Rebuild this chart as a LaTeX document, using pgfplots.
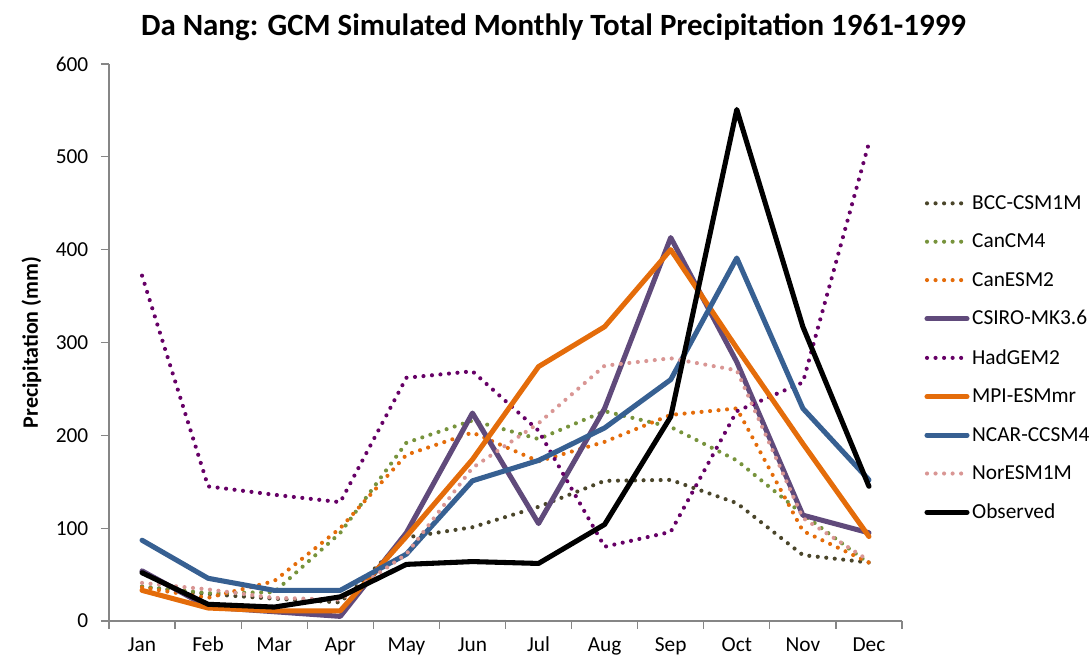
\documentclass[border=0pt]{standalone}
\usepackage{pgfplots}
\pgfplotsset{compat=1.18}
\usepackage{fontspec}
\setmainfont{Carlito}
\definecolor{cBCC}{HTML}{4A452A}
\definecolor{cCan}{HTML}{77933C}
\definecolor{cOr}{HTML}{E46C0A}
\definecolor{cCS}{HTML}{604A7B}
\definecolor{cHad}{HTML}{660066}
\definecolor{cNC}{HTML}{376092}
\definecolor{cNor}{HTML}{D99694}
\definecolor{axgray}{HTML}{868686}
\begin{document}
\begin{tikzpicture}
\begin{axis}[
  scale only axis,
  width=594.75pt, height=417.75pt,
  xmin=0.5, xmax=12.5, ymin=0, ymax=600,
  axis x line*=bottom, axis y line*=left,
  axis line style={axgray, line width=0.9pt},
  xtick={1,...,12},
  xticklabels={Jan,Feb,Mar,Apr,May,Jun,Jul,Aug,Sep,Oct,Nov,Dec},
  minor xtick={0.5,1.5,...,12.5},
  major x tick style={draw=none},
  minor x tick style={axgray, line width=0.9pt},
  minor tick length=6pt,
  ytick={0,100,...,600},
  y tick style={axgray, line width=0.9pt},
  tick align=outside, major tick length=6pt,
  tick label style={font=\fontsize{16}{19}\selectfont, /pgf/number format/assume math mode=true},
  xticklabel style={yshift=-4pt, text height=11.5pt, text depth=2.5pt, inner ysep=1pt},
  yticklabel style={xshift=-6pt},
  ylabel={\bfseries Precipitation (mm)},
  ylabel style={font=\fontsize{16.5}{19}\selectfont, yshift=4pt},
  title={\bfseries Da Nang: GCM Simulated Monthly Total Precipitation 1961-1999},
  title style={font=\fontsize{23.2}{27}\selectfont, yshift=8pt, xshift=36pt},
  clip=false,
  legend style={draw=none, fill=none, font=\fontsize{16}{19}\selectfont,
    at={(1.028,0.472)}, anchor=west, row sep=12.9pt, inner sep=0pt},
  legend cell align=left,
  legend image code/.code={\draw[#1] (0pt,0pt) -- (30pt,0pt);},
  dotline/.style={line width=3.1pt, line cap=round, dash pattern=on 0pt off 6.4pt},
  solidline/.style={line width=3.8pt, line join=round, line cap=round},
]
\coordinate (bl) at (rel axis cs:0,0);
\coordinate (tr) at (rel axis cs:1,1);
\addplot[cBCC, dotline] coordinates {(1,37)(2,29)(3,24)(4,20)(5,90)(6,101)(7,123)(8,151)(9,152)(10,127)(11,71)(12,63)};
\addlegendentry{BCC-CSM1M}
\addplot[cCan, dotline] coordinates {(1,37)(2,30)(3,31)(4,95)(5,192)(6,216)(7,196)(8,226)(9,209)(10,173)(11,115)(12,62)};
\addlegendentry{CanCM4}
\addplot[cOr, dotline] coordinates {(1,36)(2,25)(3,43)(4,100)(5,179)(6,203)(7,172)(8,193)(9,222)(10,229)(11,97)(12,63)};
\addlegendentry{CanESM2}
\addplot[cCS, solidline] coordinates {(1,54)(2,15)(3,10)(4,5)(5,95)(6,224)(7,105)(8,229)(9,413)(10,279)(11,114)(12,95)};
\addlegendentry{CSIRO-MK3.6}
\addplot[cHad, dotline] coordinates {(1,372)(2,145)(3,136)(4,128)(5,262)(6,269)(7,205)(8,80)(9,96)(10,226)(11,257)(12,515)};
\addlegendentry{HadGEM2}
\addplot[cOr, solidline] coordinates {(1,33)(2,14)(3,11)(4,11)(5,91)(6,174)(7,274)(8,317)(9,400)(10,294)(11,191)(12,91)};
\addlegendentry{MPI-ESMmr}
\addplot[cNC, solidline] coordinates {(1,87)(2,46)(3,33)(4,33)(5,72)(6,151)(7,173)(8,208)(9,260)(10,391)(11,229)(12,152)};
\addlegendentry{NCAR-CCSM4}
\addplot[cNor, dotline] coordinates {(1,41)(2,34)(3,25)(4,23)(5,72)(6,165)(7,213)(8,275)(9,283)(10,270)(11,111)(12,65)};
\addlegendentry{NorESM1M}
\addplot[black, solidline] coordinates {(1,52)(2,18)(3,15)(4,26)(5,61)(6,64)(7,62)(8,104)(9,220)(10,551)(11,317)(12,145)};
\addlegendentry{Observed}
\end{axis}
\pgfresetboundingbox
\path ([xshift=-81.75pt, yshift=-29.25pt]bl) rectangle ([xshift=140.25pt, yshift=48pt]tr);
\end{tikzpicture}
\end{document}
